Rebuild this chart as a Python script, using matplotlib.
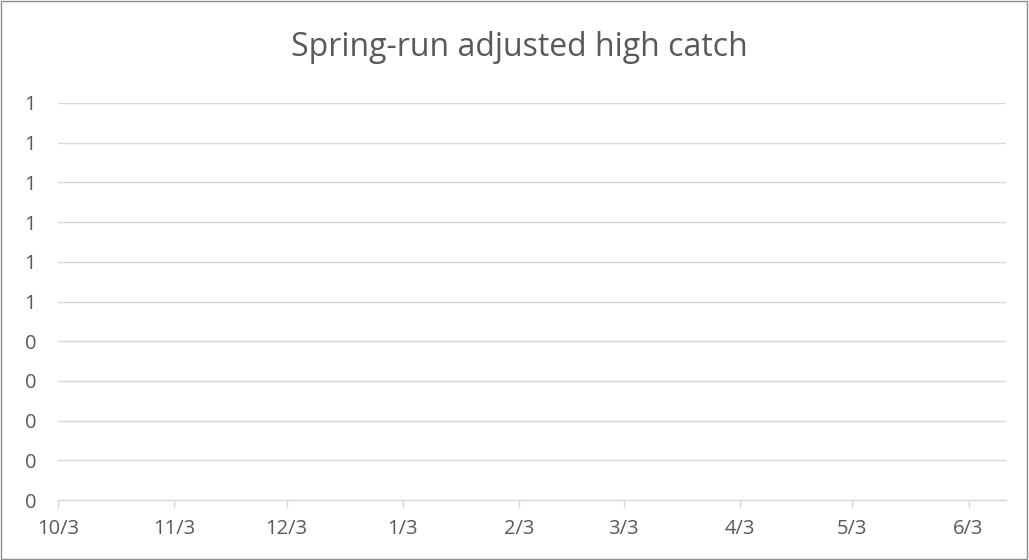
import numpy as np
import matplotlib.pyplot as plt
import matplotlib.dates as mdates
from matplotlib.patches import Rectangle
from datetime import date

# empty series: the chart has no plotted values
dates = []
catch = []

month_ticks = [date(2022, 10, 3), date(2022, 11, 3), date(2022, 12, 3), date(2023, 1, 3),
               date(2023, 2, 3), date(2023, 3, 3), date(2023, 4, 3), date(2023, 5, 3),
               date(2023, 6, 3)]
month_labels = ["10/3", "11/3", "12/3", "1/3", "2/3", "3/3", "4/3", "5/3", "6/3"]
y_ticks = [0, 0.1, 0.2, 0.3, 0.4, 0.5, 0.6, 0.7, 0.8, 0.9, 1.0]
y_labels = ["0", "0", "0", "0", "0", "1", "1", "1", "1", "1", "1"]

plt.rcParams['font.family'] = ['Open Sans', 'DejaVu Sans']
text_col = '#595959'
grid_col = '#d9d9d9'

fig = plt.figure(figsize=(10.29, 5.6), dpi=100)
ax = fig.add_axes([58 / 1029, 60 / 560, 948 / 1029, 397 / 560])

ax.plot(dates, catch, color='#4472c4', linewidth=2)

ax.set_xlim(date(2022, 10, 3), date(2023, 6, 13))
ax.set_ylim(0, 1.0)
ax.set_xticks(month_ticks)
ax.set_xticklabels(month_labels)
ax.set_yticks(y_ticks)
ax.set_yticklabels(y_labels)

ax.grid(axis='y', color=grid_col, linewidth=1)
ax.set_axisbelow(True)
for s in ['left', 'right', 'top']:
    ax.spines[s].set_visible(False)
ax.spines['bottom'].set_color(grid_col)
ax.spines['bottom'].set_linewidth(1)
ax.tick_params(axis='x', colors=grid_col, labelcolor=text_col, labelsize=14.5,
               length=6, width=1, direction='out', pad=8)
ax.tick_params(axis='y', length=0, labelcolor=text_col, labelsize=14.5, pad=24)
for lab in ax.get_yticklabels():
    lab.set_horizontalalignment('left')

fig.text(0.505, 1 - 47 / 560, "Spring-run adjusted high catch", ha='center', va='center',
         fontsize=23, color=text_col)

fig.patches.append(Rectangle((0.0005, 0.001), 0.998, 0.997, transform=fig.transFigure,
                             fill=False, edgecolor='#8c8c8c', linewidth=1))

plt.savefig("out.png", dpi=100)
